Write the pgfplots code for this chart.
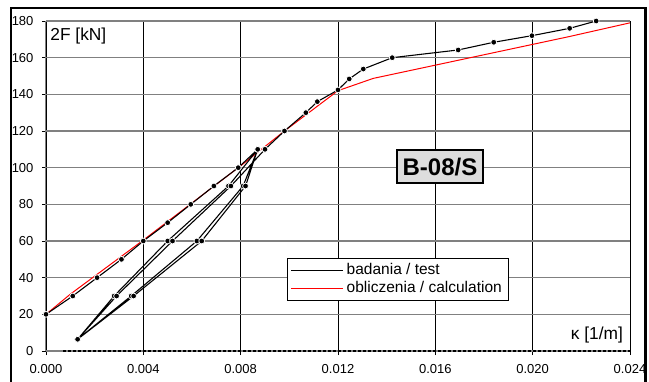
\documentclass[border=0pt]{standalone}
\usepackage{fontspec}
\setmainfont{Liberation Sans}
\usepackage{pgfplots}
\pgfplotsset{compat=1.18}
\definecolor{gridgray}{RGB}{128,128,128}
\definecolor{boxgray}{RGB}{221,221,221}
\begin{document}
\begin{tikzpicture}[x=0.6pt,y=0.6pt]
\useasboundingbox (0,0) rectangle (649,381);
\begin{axis}[
  at={(27.6pt,18pt)}, anchor=south west,
  scale only axis, width=350.4pt, height=198pt,
  xmin=0, xmax=0.024, ymin=0, ymax=180,
  xtick={0,0.004,0.008,0.012,0.016,0.020,0.024},
  ytick={0,20,40,60,80,100,120,140,160,180},
  scaled x ticks=false,
  x tick label style={/pgf/number format/fixed, /pgf/number format/fixed zerofill, /pgf/number format/precision=3, yshift=-2pt},
  y tick label style={xshift=-1.5pt},
  axis x line*=bottom, axis y line*=left,
  axis line style={gridgray, line width=0.6pt},
  tick align=outside, major tick length=2.5pt,
  tick style={black, line width=0.5pt},
  grid=major,
  x grid style={black, line width=0.5pt},
  y grid style={gridgray, line width=0.8pt},
  tick label style={font=\fontsize{7.8}{9}\selectfont, /pgf/number format/assume math mode=true},
  legend style={at={(axis cs:0.0099,50.7)}, anchor=north west, draw=black, line width=0.6pt, fill=white,
    font=\fontsize{9.3}{11}\selectfont, inner xsep=2pt, inner ysep=1pt, row sep=-1.5pt, cells={anchor=west}},
  legend image code/.code={\draw[#1, line width=0.6pt] (0pt,0pt) -- (31pt,0pt);},
]
\addplot[red, line width=0.6pt, forget plot] coordinates {
(0,20)(0.001,31)(0.004,60.5)(0.008,101)(0.0098,120)(0.012,142)(0.01345,148.7)(0.0215,171.5)(0.024,179)};
\addplot[black, line width=0.65pt, mark=*, mark size=1.75pt, mark options={fill=black, draw=white, line width=0.45pt}, forget plot] coordinates {
(0,20)(0.0011,30)(0.0021,40)(0.0031,50)(0.0040,60)(0.0050,70)(0.00595,80)(0.0069,90)(0.0079,100)(0.0087,110)
(0.0081,90)(0.0062,60)(0.0035,30)(0.0013,6.4)
(0.0028,30)(0.0050,60)(0.0075,90)(0.0087,110)
(0.0082,90)(0.0064,60)(0.0036,30)(0.0013,6.4)
(0.0029,30)(0.0052,60)(0.0076,90)(0.0090,110)
(0.0098,120)(0.01068,130)(0.01115,136)(0.0120,142.4)(0.01246,148.4)(0.01304,153.8)(0.01423,160)
(0.01694,164.2)(0.0184,168.4)(0.01997,172)(0.02152,176)(0.02261,180)};
\addplot[black, line width=0.8pt, dash pattern=on 1.8pt off 1.2pt, forget plot] coordinates {(0.0007,0)(0.024,0)};
\addlegendimage{black}
\addlegendentry{badania / test}
\addlegendimage{red}
\addlegendentry{obliczenia / calculation}
\node[anchor=north west, font=\fontsize{10.4}{12}\selectfont, inner sep=0pt] at (rel axis cs:0.007,0.98) {2F [kN]};
\node[anchor=base east, font=\fontsize{10.4}{12}\selectfont, inner sep=0pt] at (rel axis cs:0.9885,0.0355) {κ [1/m]};
\node[draw=black, line width=0.7pt, fill=boxgray, font=\fontsize{14.4}{17}\selectfont\bfseries, inner sep=0pt, minimum width=51.6pt, minimum height=19.8pt] at (axis cs:0.01619,100.6) {B-08/S};
\end{axis}
\draw[line width=0.7pt] (11,-10) -- (11,373) -- (645,373) -- (645,-10);
\draw[line width=1.6pt] (645.5,373.5) -- (645.5,-10);
\end{tikzpicture}
\end{document}
